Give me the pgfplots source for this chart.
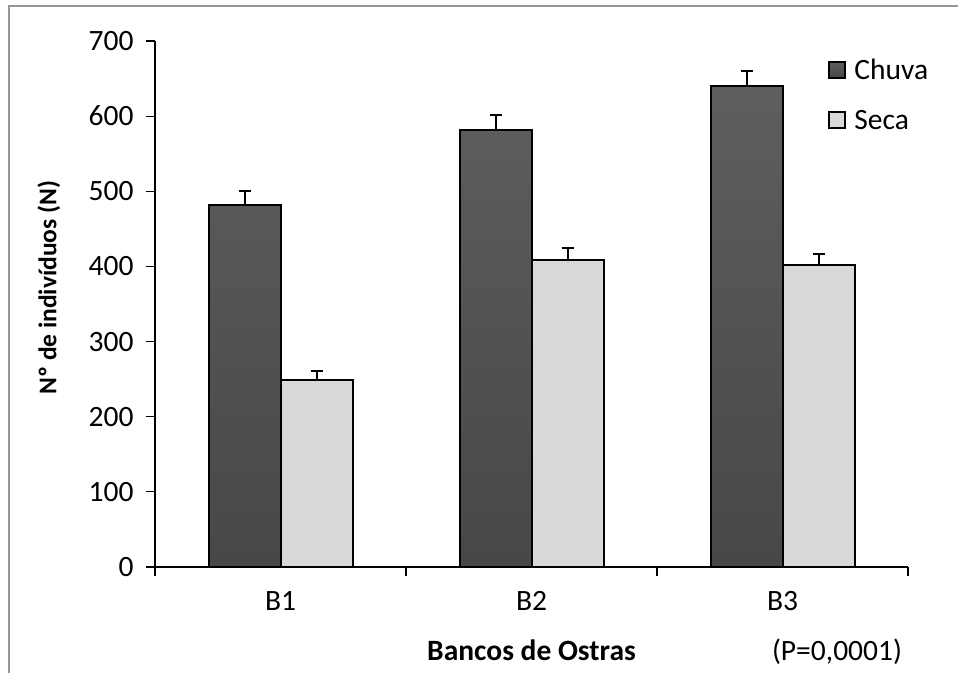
\documentclass[border=0pt]{standalone}
\usepackage{fontspec}
\setmainfont{Carlito}
\usepackage{pgfplots}
\pgfplotsset{compat=1.18}
\definecolor{chtop}{HTML}{5E5E5E}
\definecolor{chbot}{HTML}{474747}
\definecolor{seca}{HTML}{D9D9D9}
\definecolor{frame}{HTML}{969696}
\pgfplotsset{sqlegend/.style={legend image code/.code={\draw[##1] (0pt,-8pt) rectangle (16pt,8pt);}}}
\begin{document}
\begin{tikzpicture}[x=1pt,y=1pt]
\useasboundingbox (0,0) rectangle (958,673);
\draw[frame, line width=2pt] (9,0) -- (9,667) -- (958,667);
\begin{axis}[
  at={(155pt,106pt)}, anchor=south west,
  scale only axis, width=753pt, height=526pt,
  ybar=0pt, bar width=72pt,
  font=\fontsize{29.5}{35}\selectfont,
  /pgf/number format/assume math mode=true,
  xmin=-0.5, xmax=2.5, ymin=0, ymax=700,
  axis x line=bottom, axis y line=left,
  axis line style={-, line width=1.2pt, black},
  ytick={0,100,...,700},
  tick align=outside,
  major tick length=9pt,
  tick style={line width=1.2pt, black},
  xtick={0,1,2}, xticklabels={B1,B2,B3},
  x tick style={draw=none},
  extra x ticks={-0.5,0.5,1.5,2.5}, extra x tick labels={},
  extra x tick style={x tick style={draw=black, line width=1.2pt}},
  xticklabel style={yshift=-12pt},
  yticklabel style={xshift=-9pt},
  xlabel={\bfseries Bancos de Ostras},
  xlabel style={at={(axis description cs:0.5,-0.1778)}, anchor=base},
  ylabel={\bfseries Nº de indivíduos (N)},
  ylabel style={at={(axis description cs:-0.141,0.531)}, anchor=center, rotate=0,
    font=\fontsize{25.5}{30}\selectfont},
  legend cell align=left,
  legend style={draw=none, fill=none, inner sep=0pt, row sep=29pt, column sep=8pt,
    nodes={inner sep=0pt}, at={(0.894,0.9658)}, anchor=north west,
    font=\fontsize{29.5}{35}\selectfont},
  error bars/y dir=plus, error bars/y explicit,
  error bars/error bar style={line width=2pt, black},
  error bars/error mark options={line width=2pt, black, mark size=6pt, rotate=90},
]
\addplot[draw=black, line width=2pt, top color=chtop, bottom color=chbot, sqlegend]
  coordinates {(0,482) +- (0,18) (1,581) +- (0,20) (2,640) +- (0,20)};
\addlegendentry{Chuva}
\addplot[draw=black, line width=2pt, fill=seca, sqlegend]
  coordinates {(0,249) +- (0,12) (1,408) +- (0,16) (2,402) +- (0,14)};
\addlegendentry{Seca}
\end{axis}
\node[anchor=base, font=\fontsize{29.5}{35}\selectfont] at (837,12.5) {(P=0,0001)};
\end{tikzpicture}
\end{document}
